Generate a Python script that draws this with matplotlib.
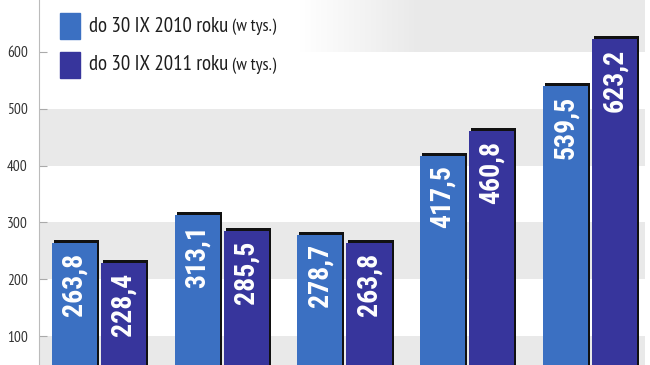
import numpy as np
import matplotlib
matplotlib.use("Agg")
import matplotlib.pyplot as plt

# values (thousands)
vals_2010 = [263.8, 313.1, 278.7, 417.5, 539.5]
vals_2011 = [228.4, 285.5, 263.8, 460.8, 623.2]
labels_2010 = ["263,8", "313,1", "278,7", "417,5", "539,5"]
labels_2011 = ["228,4", "285,5", "263,8", "460,8", "623,2"]
legend_main = ["do 30 IX 2010 roku", "do 30 IX 2011 roku"]
legend_unit = "(w tys.)"
yticks = [100, 200, 300, 400, 500, 600]

c2010 = "#3b70c2"
c2011 = "#37359c"
band = "#e9e9e9"
heavy = ["Roboto Condensed", "DejaVu Sans"]
narrow = ["PT Sans Narrow", "DejaVu Sans"]

fig = plt.figure(figsize=(6.5, 3.65), dpi=100)
ax = fig.add_axes([0.06, 0.0, 0.94, 1.0])

ax.set_xlim(-0.489, 4.49)
ax.set_ylim(49, 691.5)

# alternating grey bands
for lo in range(0, 700, 200):
    ax.axhspan(lo, lo + 100, xmin=0, xmax=0.992, color=band, zorder=0, lw=0)

# white fade behind legend
px2x = lambda px: -0.489 + (px - 39) / 122.7
grad = np.ones((1, 200, 4))
a = np.clip((px2x(420) - np.linspace(px2x(40), px2x(420), 200)) / (px2x(420) - px2x(300)), 0, 1)
grad[0, :, 3] = a
ax.imshow(grad, extent=[px2x(40), px2x(420), 600, 700], aspect="auto", zorder=0.5,
          interpolation="bilinear")

x = np.arange(len(vals_2010))
w = 0.367
off = 0.2
dx = 2 / 122.7
dy = 3 / 0.568

for xs, vals, labs, col in [(x - off, vals_2010, labels_2010, c2010),
                            (x + off, vals_2011, labels_2011, c2011)]:
    ax.bar(xs + dx, np.array(vals) + dy, width=w, color="#111111", zorder=2, lw=0)
    ax.bar(xs, vals, width=w, color=col, zorder=3, lw=0)
    for xi, v, t in zip(xs, vals, labs):
        ax.annotate(t, (xi, v), xytext=(0, -7), textcoords="offset points",
                    rotation=90, ha="center", va="top", color="white",
                    fontsize=20, fontweight="bold", family=heavy, zorder=4)

# legend drawn by hand
for i, (txt, col) in enumerate(zip(legend_main, [c2010, c2011])):
    yc = 1 - (26 + 39 * i) / 365
    fig.patches.append(plt.Rectangle((60 / 650, yc - 13 / 365), 20 / 650, 26 / 365,
                                     transform=fig.transFigure, color=col, zorder=5))
    t = fig.text(89 / 650, yc, txt, fontsize=15, family=narrow, color="#1e1e1e",
                 va="center", ha="left", zorder=6)
    ax.annotate(legend_unit, xy=(1, 0.24), xycoords=t, xytext=(3, 0),
                textcoords="offset points", fontsize=13, family=narrow,
                color="#1e1e1e", va="baseline", ha="left", zorder=6,
                annotation_clip=False, clip_on=False)

ax.set_yticks(yticks)
ax.set_xticks([])
ax.tick_params(axis="y", direction="in", length=6, width=0.8, color="#aaaaaa",
               pad=8, labelsize=11, labelcolor="#333333")
for lab in ax.get_yticklabels():
    lab.set_family(narrow)
for s in ["top", "right", "bottom"]:
    ax.spines[s].set_visible(False)
ax.spines["left"].set_color("#bbbbbb")
ax.spines["left"].set_linewidth(0.8)
ax.set_facecolor("white")

fig.savefig("out.png", dpi=100)
